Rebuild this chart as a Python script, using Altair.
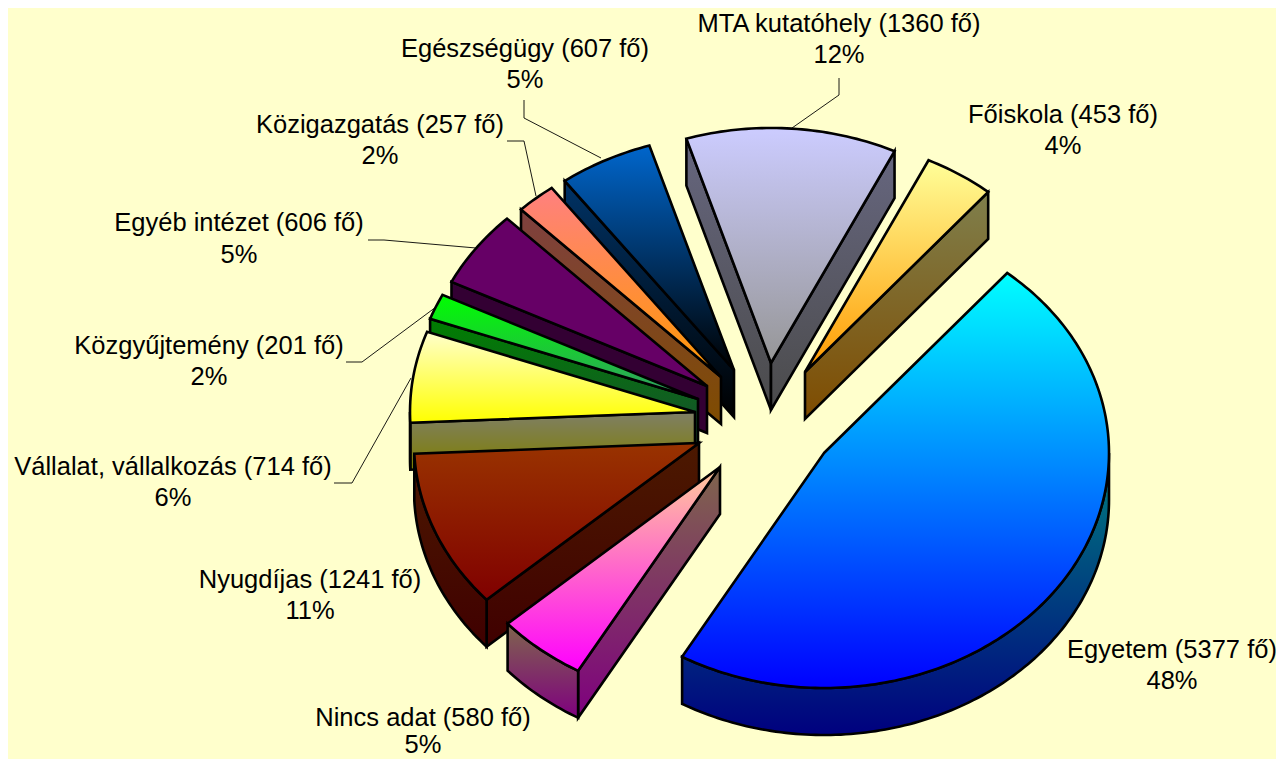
import math
import altair as alt

# ---- data ----
categories = ["Egyetem", "Nincs adat", "Nyugdíjas", "Vállalat, vállalkozás", "Közgyűjtemény",
              "Egyéb intézet", "Közigazgatás", "Egészségügy", "MTA kutatóhely", "Főiskola"]
counts = [5377, 580, 1241, 714, 201, 606, 257, 607, 1360, 453]
percents = ["48%", "5%", "11%", "6%", "2%", "5%", "2%", "5%", "12%", "4%"]

# ---- styles: gradient (top, bottom) of the upper face and of the walls ----
top_colors = [("#00FFFF", "#0000FF"), ("#FFCC99", "#FF00FF"), ("#993300", "#800000"),
              ("#FFFFCC", "#FFFF00"), ("#00FF00", "#339966"), ("#660066", "#660066"),
              ("#FF8080", "#FF9900"), ("#0066CC", "#000000"), ("#CCCCFF", "#969696"),
              ("#FFFF99", "#FF9900")]

# ---- layout: exploded apex of each slice, ellipse, label anchors ----
apex = [(824, 453), (720, 467), (699, 443), (695, 412), (698, 399), (707, 386),
        (721, 377), (734, 370), (771, 363), (805, 372)]
RX, RY, DEPTH = 285, 235, 47
FIRST_ANGLE = 40.0
label_pos = [(1172, 658, 689), (423, 726, 753), (310, 588, 619), (173, 475, 506), (209, 354, 385),
             (239, 231, 263), (380, 133, 164), (525, 57, 88), (839, 32, 63), (1063, 123, 154)]
leaders = [None, None, None,
           [(334, 483), (352, 483), (411, 378)],
           [(346, 362), (362, 362), (436, 307)],
           [(368, 240), (384, 240), (476, 248)],
           [(507, 141), (524, 141), (536, 196)],
           [(524, 100), (524, 118), (601, 158)],
           [(839, 78), (839, 95), (792, 128)],
           None]
OFFSET = 8  # page margin


def darker(color):
    r, g, b = (int(color[i:i + 2], 16) for i in (1, 3, 5))
    return "#{:02x}{:02x}{:02x}".format(r // 2, g // 2, b // 2)


def gradient(pair):
    return alt.LinearGradient(gradient="linear", x1=0, y1=0, x2=0, y2=1,
                              stops=[alt.GradientStop(color=pair[0], offset=0),
                                     alt.GradientStop(color=pair[1], offset=1)])


PROJ = dict(type="identity", scale=1, translate=[0, 0])


def polygon(pts, fill, sw=2.6):
    ring = [[x - OFFSET, y - OFFSET] for x, y in pts]
    ring.append(ring[0])
    feature = {"type": "Feature", "properties": {}, "geometry": {"type": "Polygon", "coordinates": [ring]}}
    return (alt.Chart(alt.Data(values=[feature]))
            .mark_geoshape(fill=fill, stroke="black", strokeWidth=sw, strokeJoin="miter")
            .project(**PROJ))


def polyline(pts):
    feature = {"type": "Feature", "properties": {},
               "geometry": {"type": "LineString", "coordinates": [[x - OFFSET, y - OFFSET] for x, y in pts]}}
    return (alt.Chart(alt.Data(values=[feature]))
            .mark_geoshape(filled=False, stroke="black", strokeWidth=0.9)
            .project(**PROJ))


def arc_points(ax, ay, s, e):
    n = max(3, int(e - s))
    pts = []
    for k in range(n + 1):
        t = math.radians(s + (e - s) * k / n)
        pts.append((ax + RX * math.sin(t), ay - RY * math.cos(t)))
    return pts


total = sum(counts)
spans = []
a = FIRST_ANGLE
for c in counts:
    spans.append((a, a + c / total * 360))
    a = spans[-1][1]

down = lambda p: (p[0], p[1] + DEPTH)
paint_order = [8, 9, 7, 6, 5, 4, 3, 2, 1, 0]
layers = []
for i in paint_order:
    ax, ay = apex[i]
    s, e = spans[i]
    arc = arc_points(ax, ay, s, e)
    fill_w = gradient((darker(top_colors[i][0]), darker(top_colors[i][1])))
    p0 = (ax, ay)
    # only the walls that face the viewer
    if math.sin(math.radians(s)) < 0:
        layers.append(polygon([p0, arc[0], down(arc[0]), down(p0)], fill_w))
    if math.sin(math.radians(e)) > 0:
        layers.append(polygon([p0, arc[-1], down(arc[-1]), down(p0)], fill_w))
    vs, ve = max(s, 90), min(e, 270)
    if ve > vs:
        front = arc_points(ax, ay, vs, ve)
        layers.append(polygon(front + [down(p) for p in reversed(front)], fill_w))
    layers.append(polygon([p0] + arc, gradient(top_colors[i])))

for pts in leaders:
    if pts:
        layers.append(polyline(pts))

rows = []
for cat, cnt, pct, (cx, y1, y2) in zip(categories, counts, percents, label_pos):
    rows.append({"t": f"{cat} ({cnt} fő)", "x": cx - OFFSET, "y": y1 - OFFSET})
    rows.append({"t": pct, "x": cx - OFFSET, "y": y2 - OFFSET})

labels = (alt.Chart(alt.Data(values=rows))
          .mark_text(font="Liberation Sans", fontSize=25.5, color="black", align="center", baseline="alphabetic")
          .encode(x=alt.X("x:Q", scale=None), y=alt.Y("y:Q", scale=None), text="t:N"))
layers.append(labels)

chart = (alt.layer(*layers)
         .properties(width=1268, height=751, padding=0, autosize="none", background="#FFFFCC")
         .configure_view(stroke=None))

chart.save("out.html", embed_options={"renderer": "svg", "actions": False})
